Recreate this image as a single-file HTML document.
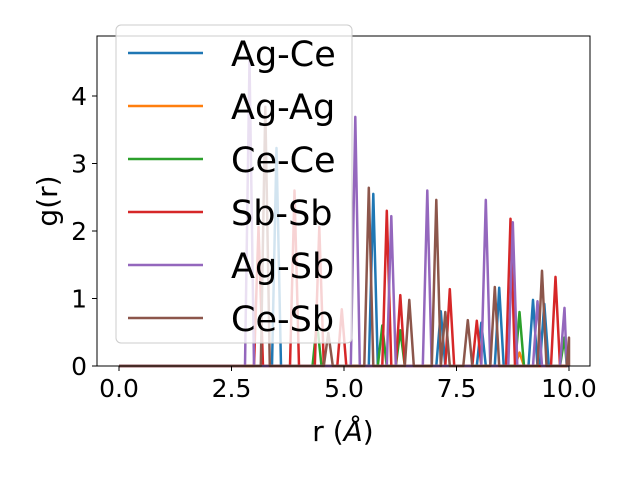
<!DOCTYPE html>
<html><head><meta charset="utf-8"><style>
body{margin:0;background:#fff;}
svg{font-family:"DejaVu Sans","Liberation Sans",sans-serif;}
</style></head><body>
<svg id="chart" width="640" height="480" viewBox="0 0 640 480">
<rect width="640" height="480" fill="#fff"/>
<g id="plot"></g>
</svg>
<script>
const xTicks=[0,2.5,5,7.5,10];
const xTickLabels=["0.0","2.5","5.0","7.5","10.0"];
const yTicks=[0,1,2,3,4];
const yTickLabels=["0","1","2","3","4"];
const seriesNames=["Ag-Ce","Ag-Ag","Ce-Ce","Sb-Sb","Ag-Sb","Ce-Sb"];
const seriesColors=["#1f77b4","#ff7f0e","#2ca02c","#d62728","#9467bd","#8c564b"];
const agCeR=[3.5,5.65,7.15,8.05,8.45,9.2,9.45];
const agCeG=[3.23,2.55,0.81,0.64,1.16,0.98,0.92];
const agAgR=[8.9];
const agAgG=[0.2];
const ceCeR=[4.4,5.85,6.25,8.9,9.9];
const ceCeG=[0.65,0.6,0.53,0.8,0.42];
const sbSbR=[3.1,3.9,4.45,4.95,5.95,6.25,7.35,7.95,8.7,9.7];
const sbSbG=[2.06,2.6,2.06,0.84,2.3,1.05,1.14,0.67,2.18,1.32];
const agSbR=[2.9,5.25,6.05,6.85,8.15,8.75,9.3,9.9];
const agSbG=[4.53,3.69,2.22,2.6,2.46,2.13,0.96,0.86];
const ceSbR=[3.25,4.65,5.55,6.45,7.05,7.25,7.75,8.35,9.4,10.0];
const ceSbG=[3.84,0.49,2.64,0.98,2.46,0.8,0.68,1.17,1.41,0.42];
const seriesR=[agCeR,agAgR,ceCeR,sbSbR,agSbR,ceSbR];
const seriesG=[agCeG,agAgG,ceCeG,sbSbG,agSbG,ceSbG];

const L=97,R=590,T=36,B=366;
const X=v=>119+v*45;
const Y=v=>366-v*67.5;
const NS="http://www.w3.org/2000/svg";
const svg=document.getElementById('chart');
function mk(tag,attrs,parent){const e=document.createElementNS(NS,tag);for(const k in attrs)e.setAttribute(k,attrs[k]);(parent||svg).appendChild(e);return e;}

seriesNames.forEach((n,i)=>{
  const rs=seriesR[i],gs=seriesG[i];
  let pts=[[0,0]];
  rs.forEach((r,j)=>{pts.push([r-0.1,0]);pts.push([r,gs[j]]);pts.push([Math.min(r+0.1,10),0]);});
  pts.push([9.95,0]);
  pts.sort((a,b)=>a[0]-b[0]);
  const p=mk('polyline',{points:pts.map(q=>X(q[0]).toFixed(1)+','+Y(q[1]).toFixed(1)).join(' '),fill:'none',stroke:seriesColors[i],'stroke-width':2.5,'stroke-linejoin':'round'});
  
  
});

const fr=mk('rect',{x:L,y:T,width:R-L,height:B-T,fill:'none',stroke:'#000','stroke-width':1});



xTicks.forEach((v,i)=>{
  mk('line',{x1:X(v),x2:X(v),y1:B,y2:B+5,stroke:'#000'});
  const t=mk('text',{x:X(v),y:B+31,'font-size':25,'text-anchor':'middle'});
  t.textContent=xTickLabels[i];
  
  
});
yTicks.forEach((v,i)=>{
  mk('line',{x1:L-5,x2:L,y1:Y(v),y2:Y(v),stroke:'#000'});
  const t=mk('text',{x:L-10,y:Y(v)+9,'font-size':25,'text-anchor':'end'});
  t.textContent=yTickLabels[i];
  
  
});
const xt=mk('text',{x:343,y:441,'font-size':28,'text-anchor':'middle'});
xt.innerHTML='r (<tspan font-style="italic">Å</tspan>)';


const yt=mk('text',{x:0,y:0,'font-size':28,'text-anchor':'middle',transform:'translate(57,201) rotate(-90)'});
yt.textContent='g(r)';



const lg=mk('g',{});


mk('rect',{x:116,y:25,width:236,height:318,rx:5,fill:'#fff','fill-opacity':0.8,stroke:'#ccc'},lg);
seriesNames.forEach((n,i)=>{
  const y=53+i*53;
  const e=mk('g',{},lg);
  
  
  mk('line',{x1:128,x2:203,y1:y,y2:y,stroke:seriesColors[i],'stroke-width':2.5},e);
  const t=mk('text',{x:231,y:y+13,'font-size':35},e);
  t.textContent=n;
});
</script>
</body></html>
